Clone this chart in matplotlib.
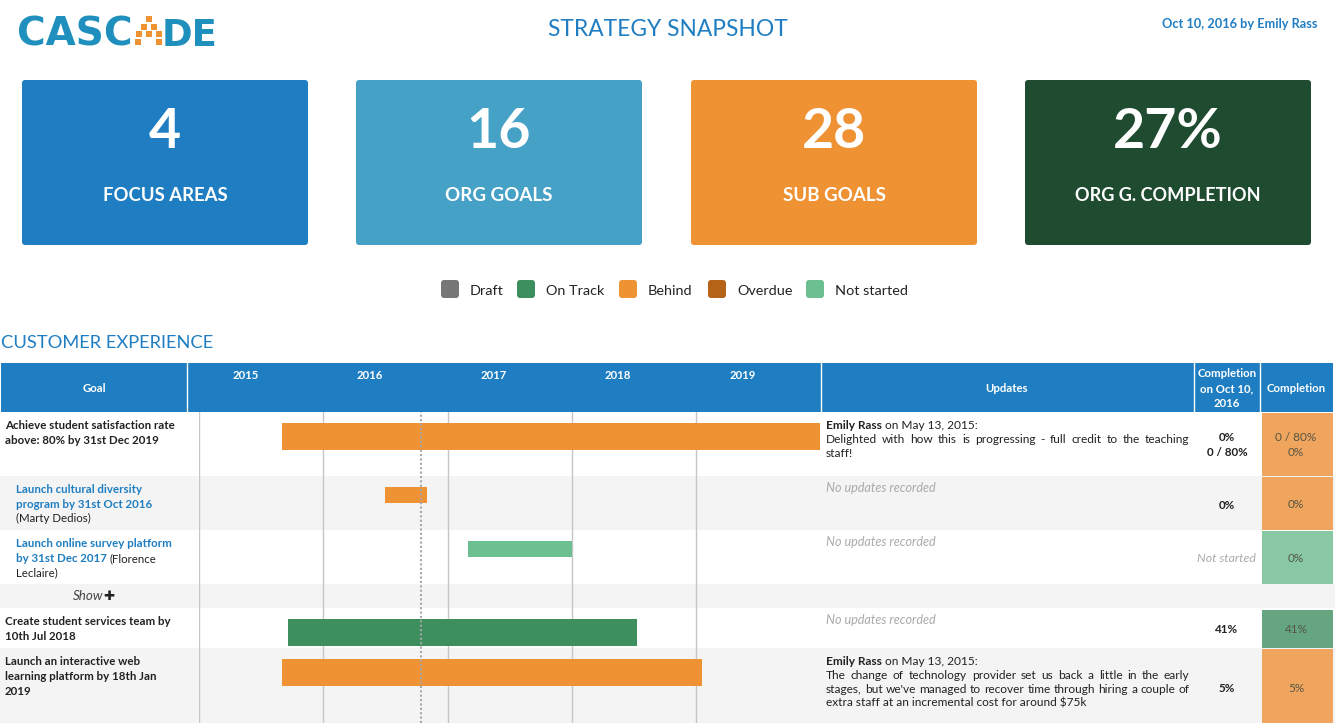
import matplotlib
matplotlib.use('Agg')
import matplotlib.pyplot as plt
from matplotlib.patches import FancyBboxPatch, Rectangle

W, H = 1335, 723
BLUE = '#1f7ec2'
ORANGE = '#ee9234'
GREEN = '#3d8f5e'
LIGHT = '#6bbf90'
GREY_ROW = '#f4f4f4'
DARK = '#222222'
MUTED = '#aaaaaa'
FONT = 'Lato'

plt.rcParams['font.family'] = [FONT, 'DejaVu Sans']

fig = plt.figure(figsize=(W / 100, H / 100), dpi=100)
ax = fig.add_axes([0, 0, 1, 1])
ax.set_xlim(0, W)
ax.set_ylim(H, 0)
ax.axis('off')
renderer = fig.canvas.get_renderer()


def text_w(t):
    return t.get_window_extent(renderer).width


def fit_text(x, y, s, width, color, weight='normal', ha='left', family=None):
    # scale the font so the string takes the measured width
    t = ax.text(x, y, s, fontsize=10, color=color, weight=weight, ha=ha, va='baseline')
    if family:
        t.set_family(family)
    t.set_fontsize(10 * width / text_w(t))
    return t


def space_w(size):
    a = ax.text(0, 0, 'a a', fontsize=size)
    b = ax.text(0, 0, 'aa', fontsize=size)
    gap = text_w(a) - text_w(b)
    a.remove()
    b.remove()
    return gap


def draw_line(x, y, runs, size=8.6, right=None):
    # runs = list of (text, weight, color, style); right = justify up to this x
    pieces = []
    for s, weight, color, style in runs:
        parts = s.split() if right is not None else [s]
        for p in parts:
            pieces.append((p, weight, color, style))
    items = []
    for p, weight, color, style in pieces:
        t = ax.text(x, y, p, fontsize=size, weight=weight, color=color, style=style, va='baseline')
        items.append((t, text_w(t)))
    gap = space_w(size)
    if right is not None and len(items) > 1:
        gap = (right - x - sum(i[1] for i in items)) / (len(items) - 1)
    cur = x
    for t, w in items:
        t.set_x(cur)
        cur += w + gap


# logo
fit_text(17, 45.5, 'CASC', 116, '#1f8fbd', weight='bold', family='DejaVu Sans')
fit_text(162, 45.5, 'DE', 56, '#1f8fbd', weight='bold', family='DejaVu Sans')
dots_x = [148.7, 143.7, 154, 138.7, 148.7, 159, 137.7, 159]
dots_y = [19, 26.7, 26.7, 34.3, 34.3, 34.3, 42.3, 42.3]
ax.scatter(dots_x, dots_y, s=14, marker='s', color=ORANGE, linewidths=0)

fit_text(548, 36, 'STRATEGY SNAPSHOT', 237, BLUE)
fit_text(1317, 28, 'Oct 10, 2016 by Emily Rass', 155, BLUE, weight='bold', ha='right')

# summary cards
cards = [
    (22, '4', 'FOCUS AREAS', BLUE, 124),
    (356, '16', 'ORG GOALS', '#46a1c6', 107),
    (691, '28', 'SUB GOALS', ORANGE, 103),
    (1025, '27%', 'ORG G. COMPLETION', '#1f4b30', 185),
]
for x0, num, label, col, lw in cards:
    ax.add_patch(FancyBboxPatch((x0 + 3, 83), 280, 159, boxstyle='round,pad=3,rounding_size=3',
                                fc=col, ec='none'))
    ax.text(x0 + 143, 148, num, color='white', fontsize=40, weight='bold', ha='center', va='baseline')
    fit_text(x0 + 143, 201, label, lw, 'white', weight='bold', ha='center')

# legend
legend = [
    (441, 470, 'Draft', '#777777'),
    (517, 546, 'On Track', GREEN),
    (619, 648, 'Behind', ORANGE),
    (708, 737, 'Overdue', '#b56317'),
    (806, 835, 'Not started', LIGHT),
]
for sx, tx, name, col in legend:
    ax.add_patch(FancyBboxPatch((sx + 3, 283), 12, 12, boxstyle='round,pad=3,rounding_size=3',
                                fc=col, ec='none'))
    ax.text(tx, 295, name, fontsize=10.4, color=DARK, va='baseline')

fit_text(1, 348, 'CUSTOMER EXPERIENCE', 212, BLUE)

# table rows: top, bottom, background
rows = [
    (412, 476, 'white'),
    (476, 530, GREY_ROW),
    (530, 584, 'white'),
    (584, 608, GREY_ROW),
    (608, 648, 'white'),
    (648, 723, GREY_ROW),
]
for top, bot, col in rows:
    ax.add_patch(Rectangle((0, top), W, bot - top, fc=col, ec='none', zorder=0))

# header
ax.add_patch(Rectangle((1, 363), 1332, 49, fc=BLUE, ec='none'))
for x in [187, 820.8, 1194.2, 1260]:
    ax.plot([x, x], [363, 412], color='white', lw=1)
for lab, x, y in [('Goal', 94, 392), ('Updates', 1007, 392), ('Completion', 1296, 392),
                  ('Completion', 1227, 377), ('on Oct 10,', 1227, 392), ('2016', 1227, 407)]:
    ax.text(x, y, lab, color='white', fontsize=8.2, weight='bold', ha='center', va='baseline')

# goal names
goal_lines = [
    (5, 429, [('Achieve student satisfaction rate', 'bold', DARK, 'normal')]),
    (5, 444, [('above: 80% by 31st Dec 2019', 'bold', DARK, 'normal')]),
    (16, 493, [('Launch cultural diversity', 'bold', BLUE, 'normal')]),
    (16, 508, [('program by 31st Oct 2016', 'bold', BLUE, 'normal')]),
    (16, 522, [('(Marty Dedios)', 'normal', DARK, 'normal')]),
    (16, 547, [('Launch online survey platform', 'bold', BLUE, 'normal')]),
    (16, 562, [('by 31st Dec 2017', 'bold', BLUE, 'normal'), ('(Florence', 'normal', DARK, 'normal')]),
    (16, 576, [('Leclaire)', 'normal', DARK, 'normal')]),
    (5, 625, [('Create student services team by', 'bold', DARK, 'normal')]),
    (5, 640, [('10th Jul 2018', 'bold', DARK, 'normal')]),
    (5, 665, [('Launch an interactive web', 'bold', DARK, 'normal')]),
    (5, 680, [('learning platform by 18th Jan', 'bold', DARK, 'normal')]),
    (5, 695, [('2019', 'bold', DARK, 'normal')]),
]
for x, y, runs in goal_lines:
    draw_line(x, y, runs, size=8.3)
draw_line(73, 600, [('Show', 'normal', '#444444', 'italic')], size=9.6)
ax.text(109, 600.5, '\u271a', fontsize=9.5, color='#222222', ha='center', va='baseline',
        family=['DejaVu Sans'])

# updates
NORMAL = ('normal', DARK, 'normal')
update_lines = [
    (429, [('Emily Rass', 'bold', DARK, 'normal'), ('on May 13, 2015:',) + NORMAL], None),
    (443, [('Delighted with how this is progressing - full credit to the teaching',) + NORMAL], 1189.5),
    (457, [('staff!',) + NORMAL], None),
    (492, [('No updates recorded', 'normal', MUTED, 'italic')], None),
    (546, [('No updates recorded', 'normal', MUTED, 'italic')], None),
    (624, [('No updates recorded', 'normal', MUTED, 'italic')], None),
    (665, [('Emily Rass', 'bold', DARK, 'normal'), ('on May 13, 2015:',) + NORMAL], None),
    (679, [('The change of technology provider set us back a little in the early',) + NORMAL], 1189.5),
    (693, [("stages, but we've managed to recover time through hiring a couple of",) + NORMAL], 1189.5),
    (707, [('extra staff at an incremental cost for around $75k',) + NORMAL], None),
]
for y, runs, right in update_lines:
    size = 9.1 if runs[0][0].startswith('No updates') else 8.6
    draw_line(826, y, runs, size=size, right=right)

# completion at report date
for lab, y in [('0%', 441), ('0 / 80%', 456), ('0%', 509), ('41%', 633), ('5%', 692)]:
    ax.text(1227, y, lab, fontsize=8.4, weight='bold', color=DARK, ha='center', va='baseline')
ax.text(1226, 562, 'Not started', fontsize=8.8, style='italic', color=MUTED, ha='center', va='baseline')

# completion cells
cells = [
    (413, 476, '#f0a55e', ['0 / 80%', '0%'], [441, 456]),
    (477, 530, '#f0a55e', ['0%'], [508]),
    (531, 583.5, '#88c9a3', ['0%'], [562]),
    (609.5, 647.5, '#65a57f', ['41%'], [633]),
    (649, 723, '#f0a55e', ['5%'], [692]),
]
for top, bot, col, labs, ys in cells:
    ax.add_patch(Rectangle((1261.5, top), 71.5, bot - top, fc=col, ec='none'))
    for lab, y in zip(labs, ys):
        ax.text(1296, y, lab, fontsize=8.5, color='#555544', ha='center', va='baseline')

# gantt part, x axis in years and y axis in page pixels
gantt = fig.add_axes([199.2 / W, 0, 621 / W, (H - 412) / H])
gantt.set_xlim(2015, 2020)
gantt.set_ylim(723, 412)
gantt.patch.set_alpha(0)
gantt.axis('off')

for yr in range(2015, 2020):
    gantt.axvline(yr, color='#c6c6c6', lw=1, zorder=1)
    ax.text(199.5 + (yr + 0.37 - 2015) * 124.2, 379, str(yr), color='white', fontsize=8.2,
            weight='bold', ha='center', va='baseline')

goals = [
    {'start': 2015.666, 'end': 2020.0, 'y': 436.5, 'h': 27, 'color': ORANGE},
    {'start': 2016.492, 'end': 2016.832, 'y': 495, 'h': 16, 'color': ORANGE},
    {'start': 2017.162, 'end': 2018.002, 'y': 549, 'h': 16, 'color': LIGHT},
    {'start': 2015.712, 'end': 2018.522, 'y': 632.5, 'h': 27, 'color': GREEN},
    {'start': 2015.666, 'end': 2019.046, 'y': 672.5, 'h': 27, 'color': ORANGE},
]
for g in goals:
    gantt.barh(g['y'], g['end'] - g['start'], left=g['start'], height=g['h'], color=g['color'], zorder=2)

# report date
gantt.axvline(2016.786, color='#a5a7aa', lw=1.5, ls=(0, (1, 1.1)), zorder=3)

fig.savefig('out.png', dpi=100)
